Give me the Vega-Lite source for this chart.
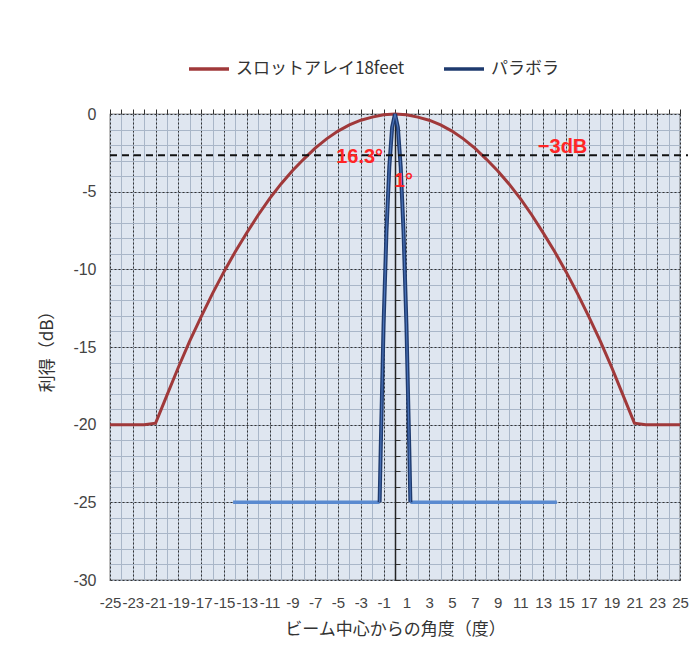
{
  "$schema": "https://vega.github.io/schema/vega-lite/v6.json",
  "width": 570,
  "height": 466,
  "autosize": {"type": "none"},
  "padding": {"left": 110, "top": 114, "right": 14, "bottom": 75},
  "background": "#ffffff",
  "config": {
    "view": {"stroke": "#2a2a2a", "strokeWidth": 1.2, "fill": "#dfe6f0"},
    "axis": {"labelFont": "Liberation Sans", "labelFontSize": 15, "labelColor": "#444444", "titleFont": "Noto Sans CJK JP", "titleFontSize": 17, "titleFontWeight": "normal", "titleColor": "#333333"},
    "legend": {"labelFont": "Noto Sans CJK JP", "labelFontSize": 17, "labelColor": "#333333", "labelLimit": 0}
  },
  "datasets": {
    "slot": [
      {"x": -25, "y": -20}, {"x": -24, "y": -20}, {"x": -23, "y": -20}, {"x": -22, "y": -20},
      {"x": -21, "y": -19.9}, {"x": -20, "y": -18.1}, {"x": -19, "y": -16.3}, {"x": -18, "y": -14.6},
      {"x": -17, "y": -13.05}, {"x": -16, "y": -11.55}, {"x": -15, "y": -10.15}, {"x": -14, "y": -8.85},
      {"x": -13, "y": -7.65}, {"x": -12, "y": -6.5}, {"x": -11, "y": -5.45}, {"x": -10, "y": -4.5},
      {"x": -9, "y": -3.65}, {"x": -8, "y": -2.9}, {"x": -7, "y": -2.2}, {"x": -6, "y": -1.6},
      {"x": -5, "y": -1.1}, {"x": -4, "y": -0.7}, {"x": -3, "y": -0.4}, {"x": -2, "y": -0.2},
      {"x": -1, "y": -0.05}, {"x": 0, "y": 0},
      {"x": 1, "y": -0.05}, {"x": 2, "y": -0.2}, {"x": 3, "y": -0.4}, {"x": 4, "y": -0.7},
      {"x": 5, "y": -1.1}, {"x": 6, "y": -1.6}, {"x": 7, "y": -2.2}, {"x": 8, "y": -2.9},
      {"x": 9, "y": -3.65}, {"x": 10, "y": -4.5}, {"x": 11, "y": -5.45}, {"x": 12, "y": -6.5},
      {"x": 13, "y": -7.65}, {"x": 14, "y": -8.85}, {"x": 15, "y": -10.15}, {"x": 16, "y": -11.55},
      {"x": 17, "y": -13.05}, {"x": 18, "y": -14.6}, {"x": 19, "y": -16.3}, {"x": 20, "y": -18.1},
      {"x": 21, "y": -19.9}, {"x": 22, "y": -20}, {"x": 23, "y": -20}, {"x": 24, "y": -20}, {"x": 25, "y": -20}
    ],
    "para": [
      {"x": -1.35, "y": -25}, {"x": -1.25, "y": -21.5}, {"x": -1.0, "y": -13.5}, {"x": -0.75, "y": -7.6},
      {"x": -0.5, "y": -3.4}, {"x": -0.25, "y": -0.85}, {"x": 0, "y": 0}, {"x": 0.25, "y": -0.85},
      {"x": 0.5, "y": -3.4}, {"x": 0.75, "y": -7.6}, {"x": 1.0, "y": -13.5}, {"x": 1.25, "y": -21.5},
      {"x": 1.35, "y": -25}
    ],
    "side": [
      {"x": -14.2, "y": -25, "g": "L"}, {"x": -1.35, "y": -25, "g": "L"},
      {"x": 1.35, "y": -25, "g": "R"}, {"x": 14.2, "y": -25, "g": "R"}
    ],
    "notes": [
      {"x": -3.1, "y": -2.75, "t": "16.3°"},
      {"x": 0.75, "y": -4.3, "t": "1°"},
      {"x": 14.7, "y": -2.1, "t": "−3dB"}
    ]
  },
  "resolve": {"axis": {"x": "independent", "y": "independent"}},
  "layer": [
    {
      "data": {"name": "side"},
      "mark": {"type": "line", "color": "#5a8ad0", "strokeWidth": 3.5},
      "encoding": {
        "x": {"field": "x", "type": "quantitative", "scale": {"domain": [-25, 25], "nice": false, "zero": false},
          "axis": {"orient": "top", "values": [-25,-24,-23,-22,-21,-20,-19,-18,-17,-16,-15,-14,-13,-12,-11,-10,-9,-8,-7,-6,-5,-4,-3,-2,-1,0,1,2,3,4,5,6,7,8,9,10,11,12,13,14,15,16,17,18,19,20,21,22,23,24,25], "labels": false, "grid": false, "domain": false, "ticks": true, "tickSize": 5, "tickColor": "#333333", "title": null}},
        "y": {"field": "y", "type": "quantitative", "scale": {"domain": [-30, 0], "nice": false, "zero": false},
          "axis": {"orient": "right", "offset": -285, "values": [-30,-29,-28,-27,-26,-25,-24,-23,-22,-21,-20,-19,-18,-17,-16,-15,-14,-13,-12,-11,-10,-9,-8,-7,-6,-5,-4,-3,-2,-1,0], "labels": false, "grid": false, "domain": true, "domainColor": "#222222", "domainWidth": 1.5, "ticks": true, "tickSize": 5, "tickColor": "#333333", "title": null}},
        "detail": {"field": "g"}
      }
    },
    {
      "data": {"name": "slot"},
      "transform": [{"calculate": "'スロットアレイ18feet'", "as": "series"}],
      "mark": {"type": "line", "strokeWidth": 3},
      "encoding": {
        "x": {"field": "x", "type": "quantitative",
          "axis": {"orient": "bottom", "values": [-25,-24,-23,-22,-21,-20,-19,-18,-17,-16,-15,-14,-13,-12,-11,-10,-9,-8,-7,-6,-5,-4,-3,-2,-1,0,1,2,3,4,5,6,7,8,9,10,11,12,13,14,15,16,17,18,19,20,21,22,23,24,25], "labels": false, "ticks": false, "domain": false, "grid": true, "gridColor": "#a9b6c8", "gridWidth": 1, "title": null}},
        "y": {"field": "y", "type": "quantitative",
          "axis": {"orient": "left", "values": [-30,-29,-28,-27,-26,-25,-24,-23,-22,-21,-20,-19,-18,-17,-16,-15,-14,-13,-12,-11,-10,-9,-8,-7,-6,-5,-4,-3,-2,-1,0], "labels": false, "ticks": false, "domain": false, "grid": true, "gridColor": "#a9b6c8", "gridWidth": 1, "title": null}},
        "color": {"field": "series", "type": "nominal",
          "scale": {"domain": ["スロットアレイ18feet", "パラボラ"], "range": ["#a0393a", "#1e3a6e"]},
          "legend": {"orient": "none", "legendX": 77, "legendY": -67, "direction": "horizontal", "title": null, "symbolType": "stroke", "symbolSize": 1600, "symbolStrokeWidth": 3.5, "labelOffset": 5, "columnPadding": 32}}
      }
    },
    {
      "data": {"name": "para"},
      "transform": [{"calculate": "'パラボラ'", "as": "series"}],
      "mark": {"type": "line", "strokeWidth": 4},
      "encoding": {
        "x": {"field": "x", "type": "quantitative",
          "axis": {"orient": "bottom", "values": [-25,-23,-21,-19,-17,-15,-13,-11,-9,-7,-5,-3,-1,1,3,5,7,9,11,13,15,17,19,21,23,25], "labelExpr": "datum.value < 0 ? '-' + abs(datum.value) : '' + datum.value", "labelOverlap": false, "labelBound": false, "labelFlush": false, "labelPadding": 15, "ticks": false, "domain": false, "grid": true, "gridColor": "#333333", "gridDash": [2, 2], "gridWidth": 1, "title": "ビーム中心からの角度（度）", "titlePadding": 11}},
        "y": {"field": "y", "type": "quantitative",
          "axis": {"orient": "left", "values": [-30,-25,-20,-15,-10,-5,0], "labelExpr": "datum.value < 0 ? '-' + abs(datum.value) : '' + datum.value", "labelFontSize": 16, "labelPadding": 14, "ticks": false, "domain": false, "grid": true, "gridColor": "#333333", "gridDash": [2, 2], "gridWidth": 1, "title": "利得（dB）", "titlePadding": 16}},
        "color": {"field": "series", "type": "nominal"}
      }
    },
    {
      "data": {"name": "para"},
      "mark": {"type": "line", "strokeWidth": 1.2, "color": "#4a72b8"},
      "encoding": {
        "x": {"field": "x", "type": "quantitative", "axis": null},
        "y": {"field": "y", "type": "quantitative", "axis": null}
      }
    },
    {
      "data": {"values": [{"y": -2.65, "x1": -25, "x2": 25.7}]},
      "mark": {"type": "rule", "color": "#111111", "strokeWidth": 2, "strokeDash": [7, 5], "clip": false},
      "encoding": {
        "x": {"field": "x1", "type": "quantitative", "axis": null},
        "x2": {"field": "x2"},
        "y": {"field": "y", "type": "quantitative", "axis": null}
      }
    },
    {
      "data": {"name": "notes"},
      "mark": {"type": "text", "font": "Liberation Sans", "fontSize": 20, "fontWeight": "bold", "color": "#ff2525", "align": "center", "baseline": "middle"},
      "encoding": {
        "x": {"field": "x", "type": "quantitative", "axis": null},
        "y": {"field": "y", "type": "quantitative", "axis": null},
        "text": {"field": "t"}
      }
    }
  ]
}
